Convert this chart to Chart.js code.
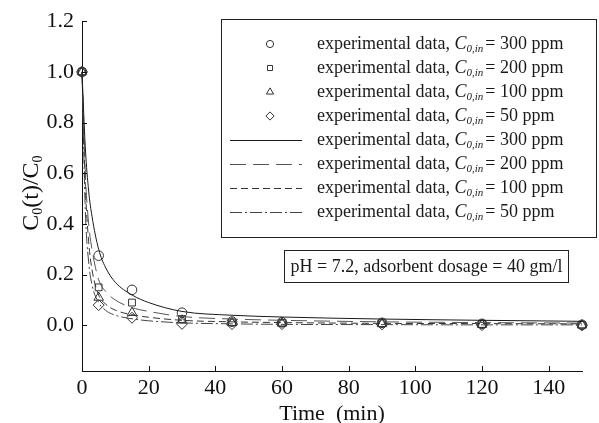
<!DOCTYPE html>
<html>
<head>
<meta charset="utf-8">
<script src="https://cdn.jsdelivr.net/npm/chart.js@4.4.1/dist/chart.umd.min.js"></script>
<style>
  html, body { margin: 0; padding: 0; background: #fff; }
  #wrap { width: 599px; height: 423px; position: relative; }
</style>
</head>
<body>
<div id="wrap"><canvas id="kinetics"></canvas></div>
<script>
// sampling times of the batch runs (min)
const times = [0, 5, 15, 30, 45, 60, 90, 120, 150];
// initial concentrations (ppm)
const concentrations = [300, 200, 100, 50];

// measured C0(t)/C0
const exp300 = [1.0, 0.275, 0.14, 0.05, 0.015, 0.012, 0.01, 0.006, 0.002];
const exp200 = [1.0, 0.15, 0.09, 0.025, 0.012, 0.01, 0.008, 0.005, 0.002];
const exp100 = [1.0, 0.11, 0.05, 0.02, 0.01, 0.008, 0.006, 0.003, 0.001];
const exp50 = [1.0, 0.08, 0.03, 0.006, 0.005, 0.005, 0.004, 0.001, 0.0];

// model curves, read at these times
const fitTimes = [0, 1, 2, 3, 5, 7, 10, 15, 20, 30, 45, 60, 90, 120, 150];
const fit300 = [1.0, 0.70, 0.53, 0.43, 0.30, 0.23, 0.17, 0.12, 0.09, 0.055, 0.04, 0.033, 0.025, 0.02, 0.016];
const fit200 = [1.0, 0.60, 0.40, 0.30, 0.18, 0.135, 0.10, 0.07, 0.055, 0.035, 0.025, 0.02, 0.014, 0.011, 0.009];
const fit100 = [1.0, 0.55, 0.33, 0.22, 0.12, 0.085, 0.06, 0.042, 0.032, 0.02, 0.014, 0.011, 0.008, 0.007, 0.006];
const fit50 = [1.0, 0.45, 0.25, 0.16, 0.09, 0.06, 0.04, 0.026, 0.018, 0.01, 0.006, 0.004, 0.003, 0.002, 0.002];

const xTicks = [0, 20, 40, 60, 80, 100, 120, 140];
const yTicks = [0.0, 0.2, 0.4, 0.6, 0.8, 1.0, 1.2];
const noteText = "pH = 7.2, adsorbent dosage = 40 gm/l";

const SERIF = "'Liberation Serif', 'Times New Roman', serif";
const markerStyles = ["circle", "rect", "triangle", "rectRot"];
const dashStyles = [[], [16, 7], [7, 4], [12, 3, 2, 3]];
const lineColors = ["#1a1a1a", "#555", "#333", "#444"];

const pts = (xs, ys) => xs.map((x, i) => ({ x: x, y: ys[i] }));
const expSeries = [exp300, exp200, exp100, exp50];
const fitSeries = [fit300, fit200, fit100, fit50];

const datasets = [];
fitSeries.forEach((ys, i) => {
  datasets.push({
    label: "fit " + concentrations[i],
    data: pts(fitTimes, ys),
    showLine: true,
    borderColor: lineColors[i],
    borderWidth: 1,
    borderDash: dashStyles[i],
    pointRadius: 0,
    cubicInterpolationMode: "monotone",
    fill: false,
  });
});
expSeries.forEach((ys, i) => {
  datasets.push({
    label: "exp " + concentrations[i],
    data: pts(times, ys),
    showLine: false,
    pointStyle: markerStyles[i],
    pointRadius: markerStyles[i] === "rectRot" ? 5.5 : markerStyles[i] === "triangle" ? 5.5 : 4.8,
    pointBorderColor: "#333",
    pointBackgroundColor: "rgba(255,255,255,0)",
    pointBorderWidth: 1,
  });
});

// text with a "C" and subscript "0,in" in the middle
function drawConcLabel(ctx, x, y, conc, size) {
  ctx.textBaseline = "middle";
  ctx.textAlign = "left";
  ctx.font = size + "px " + SERIF;
  let s = "experimental data, ";
  ctx.fillText(s, x, y);
  x += ctx.measureText(s).width;
  ctx.font = "italic " + size + "px " + SERIF;
  ctx.fillText("C", x, y);
  x += ctx.measureText("C").width;
  ctx.font = "italic " + Math.round(size * 0.6) + "px " + SERIF;
  ctx.fillText("0,in", x, y + size * 0.3);
  x += ctx.measureText("0,in").width + 2;
  ctx.font = size + "px " + SERIF;
  ctx.fillText("= " + conc + " ppm", x, y);
}

const extras = {
  id: "extras",
  afterDraw(chart) {
    const ctx = chart.ctx;
    const xs = chart.scales.x, ys = chart.scales.y;
    const area = chart.chartArea;
    ctx.save();

    // inward tick marks
    ctx.strokeStyle = "#111";
    ctx.lineWidth = 1;
    ctx.beginPath();
    xTicks.forEach(v => {
      const px = Math.round(xs.getPixelForValue(v)) + 0.5;
      ctx.moveTo(px, area.bottom);
      ctx.lineTo(px, area.bottom - 5);
    });
    yTicks.forEach(v => {
      const py = Math.round(ys.getPixelForValue(v)) + 0.5;
      ctx.moveTo(area.left, py);
      ctx.lineTo(area.left + 5, py);
    });
    ctx.stroke();

    // y axis title, C0(t)/C0
    ctx.fillStyle = "#111";
    ctx.translate(32, (area.top + area.bottom) / 2 - 3);
    ctx.rotate(-Math.PI / 2);
    const parts = [["C", 24, 0], ["0", 14, 6], ["(t)/C", 24, 0], ["0", 14, 6]];
    let total = 0;
    parts.forEach(p => { ctx.font = p[1] + "px " + SERIF; total += ctx.measureText(p[0]).width; });
    let cx = -total / 2;
    ctx.textBaseline = "middle";
    ctx.textAlign = "left";
    parts.forEach(p => {
      ctx.font = p[1] + "px " + SERIF;
      ctx.fillText(p[0], cx, p[2]);
      cx += ctx.measureText(p[0]).width;
    });
    ctx.setTransform(1, 0, 0, 1, 0, 0);

    // legend box
    const lx = 221.5, ly = 19.5, lw = 375, lh = 218;
    ctx.fillStyle = "#fff";
    ctx.fillRect(lx, ly, lw, lh);
    ctx.strokeStyle = "#222";
    ctx.lineWidth = 1;
    ctx.strokeRect(lx, ly, lw, lh);
    const rowH = 24, row0 = 44, textX = 317;
    concentrations.forEach((c, i) => {
      const y = row0 + i * rowH;
      const ds = chart.data.datasets[4 + i];
      ctx.fillStyle = "#fff";
      ctx.strokeStyle = "#333";
      ctx.lineWidth = 1;
      Chart.helpers.drawPoint(ctx, {
        pointStyle: ds.pointStyle, radius: ds.pointRadius * 0.75,
        borderWidth: 1, rotation: 0,
      }, 270, y);
      ctx.fillStyle = "#1a1a1a";
      drawConcLabel(ctx, textX, y, c, 18);
    });
    concentrations.forEach((c, i) => {
      const y = row0 + (4 + i) * rowH;
      const ds = chart.data.datasets[i];
      ctx.beginPath();
      ctx.setLineDash(ds.borderDash);
      ctx.strokeStyle = ds.borderColor;
      ctx.moveTo(230, Math.round(y) + 0.5);
      ctx.lineTo(302, Math.round(y) + 0.5);
      ctx.stroke();
      ctx.setLineDash([]);
      ctx.fillStyle = "#1a1a1a";
      drawConcLabel(ctx, textX, y, c, 18);
    });

    // condition note
    const nx = 284.5, ny = 250.5, nw = 284, nh = 32;
    ctx.fillStyle = "#fff";
    ctx.fillRect(nx, ny, nw, nh);
    ctx.strokeStyle = "#222";
    ctx.strokeRect(nx, ny, nw, nh);
    ctx.fillStyle = "#1a1a1a";
    ctx.font = "18px " + SERIF;
    ctx.textAlign = "center";
    ctx.textBaseline = "middle";
    ctx.fillText(noteText, nx + nw / 2, ny + nh / 2 + 1);
    ctx.restore();
  },
};

new Chart(document.getElementById("kinetics"), {
  type: "scatter",
  data: { datasets: datasets },
  options: {
    responsive: true,
    maintainAspectRatio: false,
    animation: false,
    clip: false,
    layout: { padding: { top: 21, right: 17, left: 0, bottom: 0 } },
    plugins: { legend: { display: false }, tooltip: { enabled: false } },
    scales: {
      x: {
        type: "linear",
        min: 0,
        max: 150,
        afterBuildTicks: (scale) => { scale.ticks = xTicks.map(v => ({ value: v })); },
        afterFit: (scale) => { scale.height = 52; },
        grid: { display: false, drawTicks: false },
        border: { display: true, color: "#111", width: 1 },
        ticks: { color: "#111", padding: 4, font: { family: SERIF, size: 22 }, maxRotation: 0 },
        title: { display: true, text: "Time  (min)", color: "#111", font: { family: SERIF, size: 22 }, padding: { top: 0, bottom: -4 } },
      },
      y: {
        type: "linear",
        min: -0.18,
        max: 1.2,
        afterBuildTicks: (scale) => { scale.ticks = yTicks.map(v => ({ value: v })); },
        afterFit: (scale) => { scale.width = 82; },
        grid: { display: false, drawTicks: false },
        border: { display: true, color: "#111", width: 1 },
        ticks: { color: "#111", padding: 8, font: { family: SERIF, size: 22 }, callback: (v) => v.toFixed(1) },
      },
    },
  },
  plugins: [extras],
});
</script>
</body>
</html>
